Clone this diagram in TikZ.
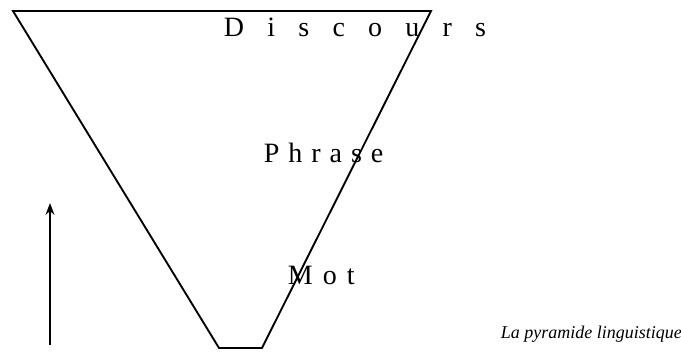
\documentclass[tikz,border=0pt]{standalone}
\usepackage{fontspec}
\setmainfont{Liberation Serif}
\usetikzlibrary{arrows.meta}

\begin{document}
\begin{tikzpicture}[x=0.75pt,y=-0.75pt,>=Stealth,line width=1.4pt,
 level/.style={inner sep=0pt,anchor=base west,font=\fontsize{21}{24}\selectfont},
 caption/.style={inner sep=0pt,anchor=base west,font=\fontsize{13.5}{16}\selectfont\itshape}]
\useasboundingbox (0,0) rectangle (681,353);
% inverted pyramid
\draw[line join=miter] (13,11) -- (431,11) -- (262,348) -- (219,348) -- cycle;
% levels
\node[level] (disc) at (223,37) {\addfontfeature{LetterSpace=83}Discours};
\node[level] (phr) at (263,162) {\addfontfeature{LetterSpace=32}Phrase};
\node[level] (mot) at (287,284) {\addfontfeature{LetterSpace=36}Mot};
% direction
\coordinate (low) at (50,345);
\coordinate (high) at (50,203);
\draw[->,line width=1.3pt] (low) -- (high);
\node[caption] (cap) at (500,338) {La pyramide linguistique};
\end{tikzpicture}
\end{document}
